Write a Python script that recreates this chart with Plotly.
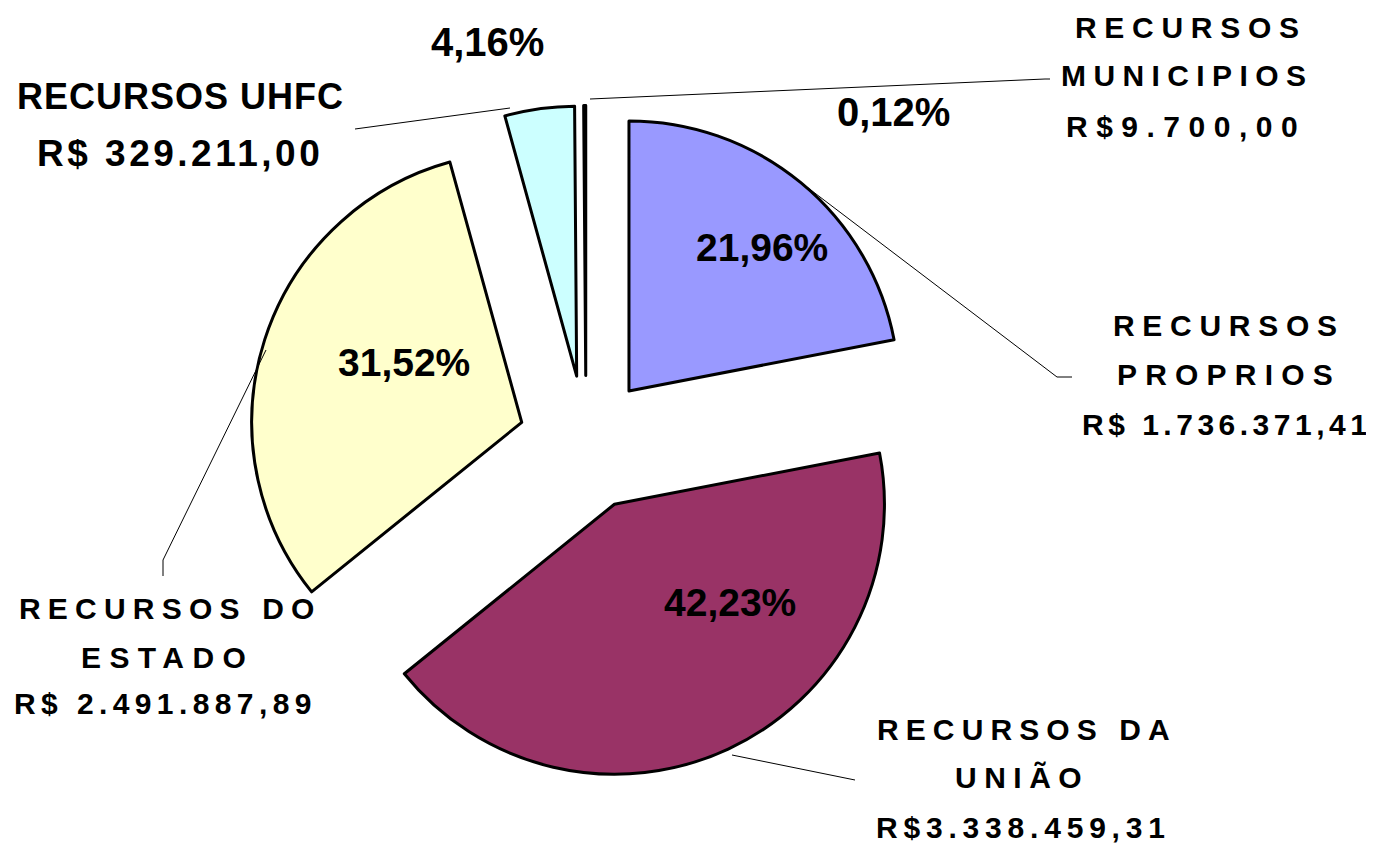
import plotly.graph_objects as go

# ---- data ----
categories = ["RECURSOS PROPRIOS", "RECURSOS DA UNIÃO", "RECURSOS DO ESTADO",
              "RECURSOS UHFC", "RECURSOS MUNICIPIOS"]
values = [1736371.41, 3338459.31, 2491887.89, 329211.00, 9700.00]
value_labels = ["R$ 1.736.371,41", "R$3.338.459,31", "R$ 2.491.887,89",
                "R$ 329.211,00", "R$9.700,00"]
colors = ["#9999FF", "#993366", "#FFFFCC", "#CCFFFF", "#FFFFFF"]

total = sum(values)
OFF = 8  # page body margin
W, H = 1374 - OFF, 845 - OFF
FONT = "Liberation Sans, Arial, sans-serif"


def pct(v):
    return f"{v / total * 100:.2f}".replace(".", ",") + "%"


def px(x):
    return (x - OFF) / W


def py(y):
    return 1 - (y - OFF) / H


CX, CY, R, PULL = 586, 443, 270, 0.25
HALF = R * (1 + PULL)

fig = go.Figure(go.Pie(
    labels=categories,
    values=values,
    sort=False,
    direction="clockwise",
    rotation=0,
    pull=[PULL] * 5,
    marker=dict(colors=colors, line=dict(color="black", width=3)),
    textinfo="none",
    showlegend=False,
    hoverinfo="label+value+percent",
    domain=dict(x=[px(CX - HALF), px(CX + HALF)],
                y=[py(CY + HALF), py(CY - HALF)]),
))

ann = []


def add(text, x, y, size=30, ls=0):
    t = f'<span style="letter-spacing:{ls}px">{text}</span>' if ls else text
    ann.append(dict(text=t, x=px(x + ls / 2), y=py(y),
                    xref="paper", yref="paper", showarrow=False,
                    xanchor="center", yanchor="middle",
                    font=dict(family=FONT, size=size, color="black", weight="bold")))


# percentage labels
add(pct(values[0]), 762, 247, size=39)
add(pct(values[1]), 730, 602, size=39)
add(pct(values[2]), 404, 362, size=39)
add(pct(values[3]), 487, 42, size=40)
add(pct(values[4]), 893, 112, size=40)

# category labels
add("RECURSOS", 1187, 28, ls=7.7)
add("MUNICIPIOS", 1183, 76, ls=7.4)
add(value_labels[4], 1182, 127, ls=8.5)

add("RECURSOS", 1225, 325, ls=7.7)
add("PROPRIOS", 1225, 374, ls=8.2)
add(value_labels[0], 1224, 424, ls=4.5)

add("RECURSOS DO", 167, 608, ls=7.2)
add("ESTADO", 163, 657, ls=8.4)
add(value_labels[2], 163, 703, ls=5.4)

add("RECURSOS DA", 1023, 729, ls=7.1)
add("UNIÃO", 1018, 777, ls=7.5)
add(value_labels[1], 1021, 827, ls=5.8)

add("RECURSOS UHFC", 180, 97, size=36, ls=1)
add(value_labels[3], 178, 154, size=37, ls=3.5)

# leader lines
leaders = [
    [(355, 129), (510, 108)],
    [(590, 99), (1045, 79), (1050, 79)],
    [(795, 178), (1057, 377), (1072, 377)],
    [(266, 350), (163, 560), (163, 576)],
    [(732, 755), (855, 780)],
]
shapes = []
for pts in leaders:
    path = "M " + " L ".join(f"{px(x)} {py(y)}" for x, y in pts)
    shapes.append(dict(type="path", path=path, xref="paper", yref="paper",
                       line=dict(color="black", width=1)))

fig.update_layout(
    width=W, height=H,
    margin=dict(l=0, r=0, t=0, b=0),
    paper_bgcolor="white", plot_bgcolor="white",
    separators=",.",
    annotations=ann,
    shapes=shapes,
)

fig.write_html("out.html")
